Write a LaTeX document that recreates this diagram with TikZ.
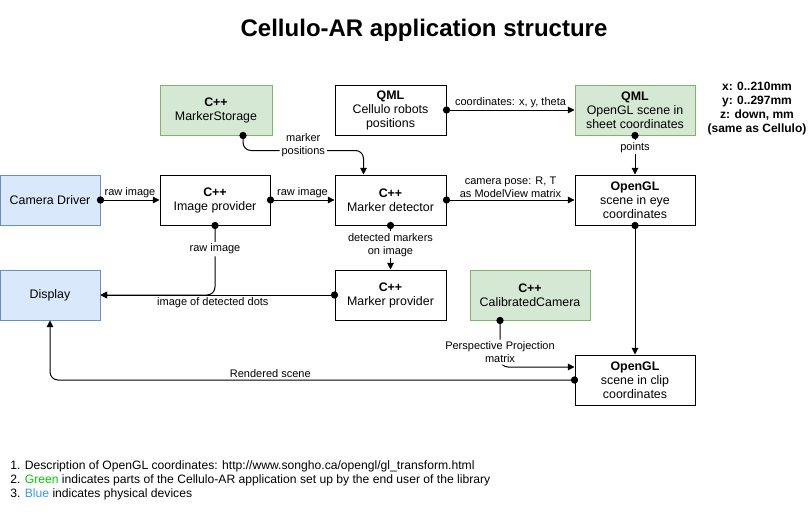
\documentclass[tikz,border=0pt]{standalone}
\usepackage{fontspec}
\setmainfont{Liberation Sans}
\usepackage{tikz}
\usetikzlibrary{arrows.meta, positioning, calc}
\usepackage{xcolor}
\definecolor{userfill}{HTML}{D5E8D4}
\definecolor{userdraw}{HTML}{82B366}
\definecolor{devfill}{HTML}{DAE8FC}
\definecolor{devdraw}{HTML}{6C8EBF}
\definecolor{notegreen}{HTML}{00CC00}
\definecolor{noteblue}{HTML}{3399FF}

\begin{document}
\begin{tikzpicture}[
        x=0.75pt, y=-0.75pt,
        block/.style={draw, rectangle, line width=0.75pt, minimum height=37.5pt, align=center, fill=white, inner sep=2pt, font=\fontsize{9.3}{10.5}\selectfont},
        user/.style={block, fill=userfill, draw=userdraw},
        device/.style={block, fill=devfill, draw=devdraw},
        wire/.style={line width=0.75pt, -{Triangle[length=5pt, width=5pt]}},
        knob/.style={circle, fill=black, inner sep=0pt, minimum size=5.5pt},
        tag/.style={font=\fontsize{8.25}{9.75}\selectfont, align=center, inner sep=1.5pt},
        ontag/.style={tag, fill=white}
    ]
        \useasboundingbox (0,0) rectangle (810,521);

        % Title and notes
        \node (title) at (424,30) {\fontsize{18}{21}\selectfont\bfseries Cellulo-AR application structure};
        \node (axes) [align=center, font=\fontsize{9}{10.5}\selectfont\bfseries] at (757,109) {x: 0..210mm\\y: 0..297mm\\z: down, mm\\(same as Cellulo)};
        \node (notes) [anchor=west, align=left, inner sep=0pt, font=\fontsize{9.1}{10.5}\selectfont] at (10,480) {1. Description of OpenGL coordinates: http://www.songho.ca/opengl/gl\_transform.html\\2. \textcolor{notegreen}{Green} indicates parts of the Cellulo-AR application set up by the end user of the library\\3. \textcolor{noteblue}{Blue} indicates physical devices};

        % Nodes
        \node (storage) [user, minimum width=84pt] at (216,110) {\textbf{C++}\\MarkerStorage};
        \node (robots) [block, minimum width=83.25pt] at (390.5,110) {\textbf{QML}\\Cellulo robots\\positions};
        \node (sheet) [user, minimum width=90pt] at (635,110) {\textbf{QML}\\OpenGL scene in\\sheet coordinates};

        \node (camera) [device, minimum width=75pt] at (50,200) {Camera Driver};
        \node (imgprov) [block, minimum width=82.5pt] at (215,200) {\textbf{C++}\\Image provider};
        \node (detector) [block, minimum width=83.25pt] at (390.5,200) {\textbf{C++}\\Marker detector};
        \node (eye) [block, minimum width=90pt] at (635,200) {\textbf{OpenGL}\\scene in eye\\coordinates};

        \node (display) [device, minimum width=75pt] at (50,295) {Display};
        \node (mprov) [block, minimum width=83.25pt] at (390.5,295) {\textbf{C++}\\Marker provider};
        \node (calib) [user, minimum width=90pt] at (530,295) {\textbf{C++}\\CalibratedCamera};

        \node (clip) [block, minimum width=90pt] at (635,380) {\textbf{OpenGL}\\scene in clip\\coordinates};

        % Wires
        \draw[wire] (robots.east) node[knob]{} -- node[tag, above]{coordinates: x, y, theta} (sheet.west);
        \draw[wire] (sheet.south) node[knob]{} -- node[ontag, pos=0.3]{points} (eye.north);
        \draw[wire, rounded corners=6pt] ($(storage.south)+(27,0)$) node[knob]{} -- ++(0,15) -| node[ontag, pos=0.25, yshift=3.75pt]{marker\\positions} ($(detector.north)+(-27,0)$);

        \draw[wire] (camera.east) node[knob]{} -- node[tag, above]{raw image} (imgprov.west);
        \draw[wire] (imgprov.east) node[knob]{} -- node[tag, above]{raw image} (detector.west);
        \draw[wire] (detector.east) node[knob]{} -- node[tag, above]{camera pose: R, T\\as ModelView matrix} (eye.west);

        \draw[wire, rounded corners=6pt] (imgprov.south) node[knob]{} |- node[ontag, pos=0.17]{raw image} (display.east);
        \draw[wire] (mprov.west) node[knob]{} -- node[tag, below, pos=0.52]{image of detected dots} (display.east);
        \draw[wire] (detector.south) node[knob]{} -- node[ontag, pos=0.44]{detected markers\\on image} (mprov.north);

        \draw[wire] (eye.south) node[knob]{} -- (clip.north);
        \draw[wire, rounded corners=6pt] ($(calib.south)+(-30,0)$) node[knob]{} |- node[ontag, pos=0.34]{Perspective Projection\\matrix} ($(clip.west)+(0,-13)$);
        \draw[wire, rounded corners=6pt] (clip.west) node[knob]{} -| node[tag, above, pos=0.29]{Rendered scene} (display.south);

    \end{tikzpicture}
\end{document}
